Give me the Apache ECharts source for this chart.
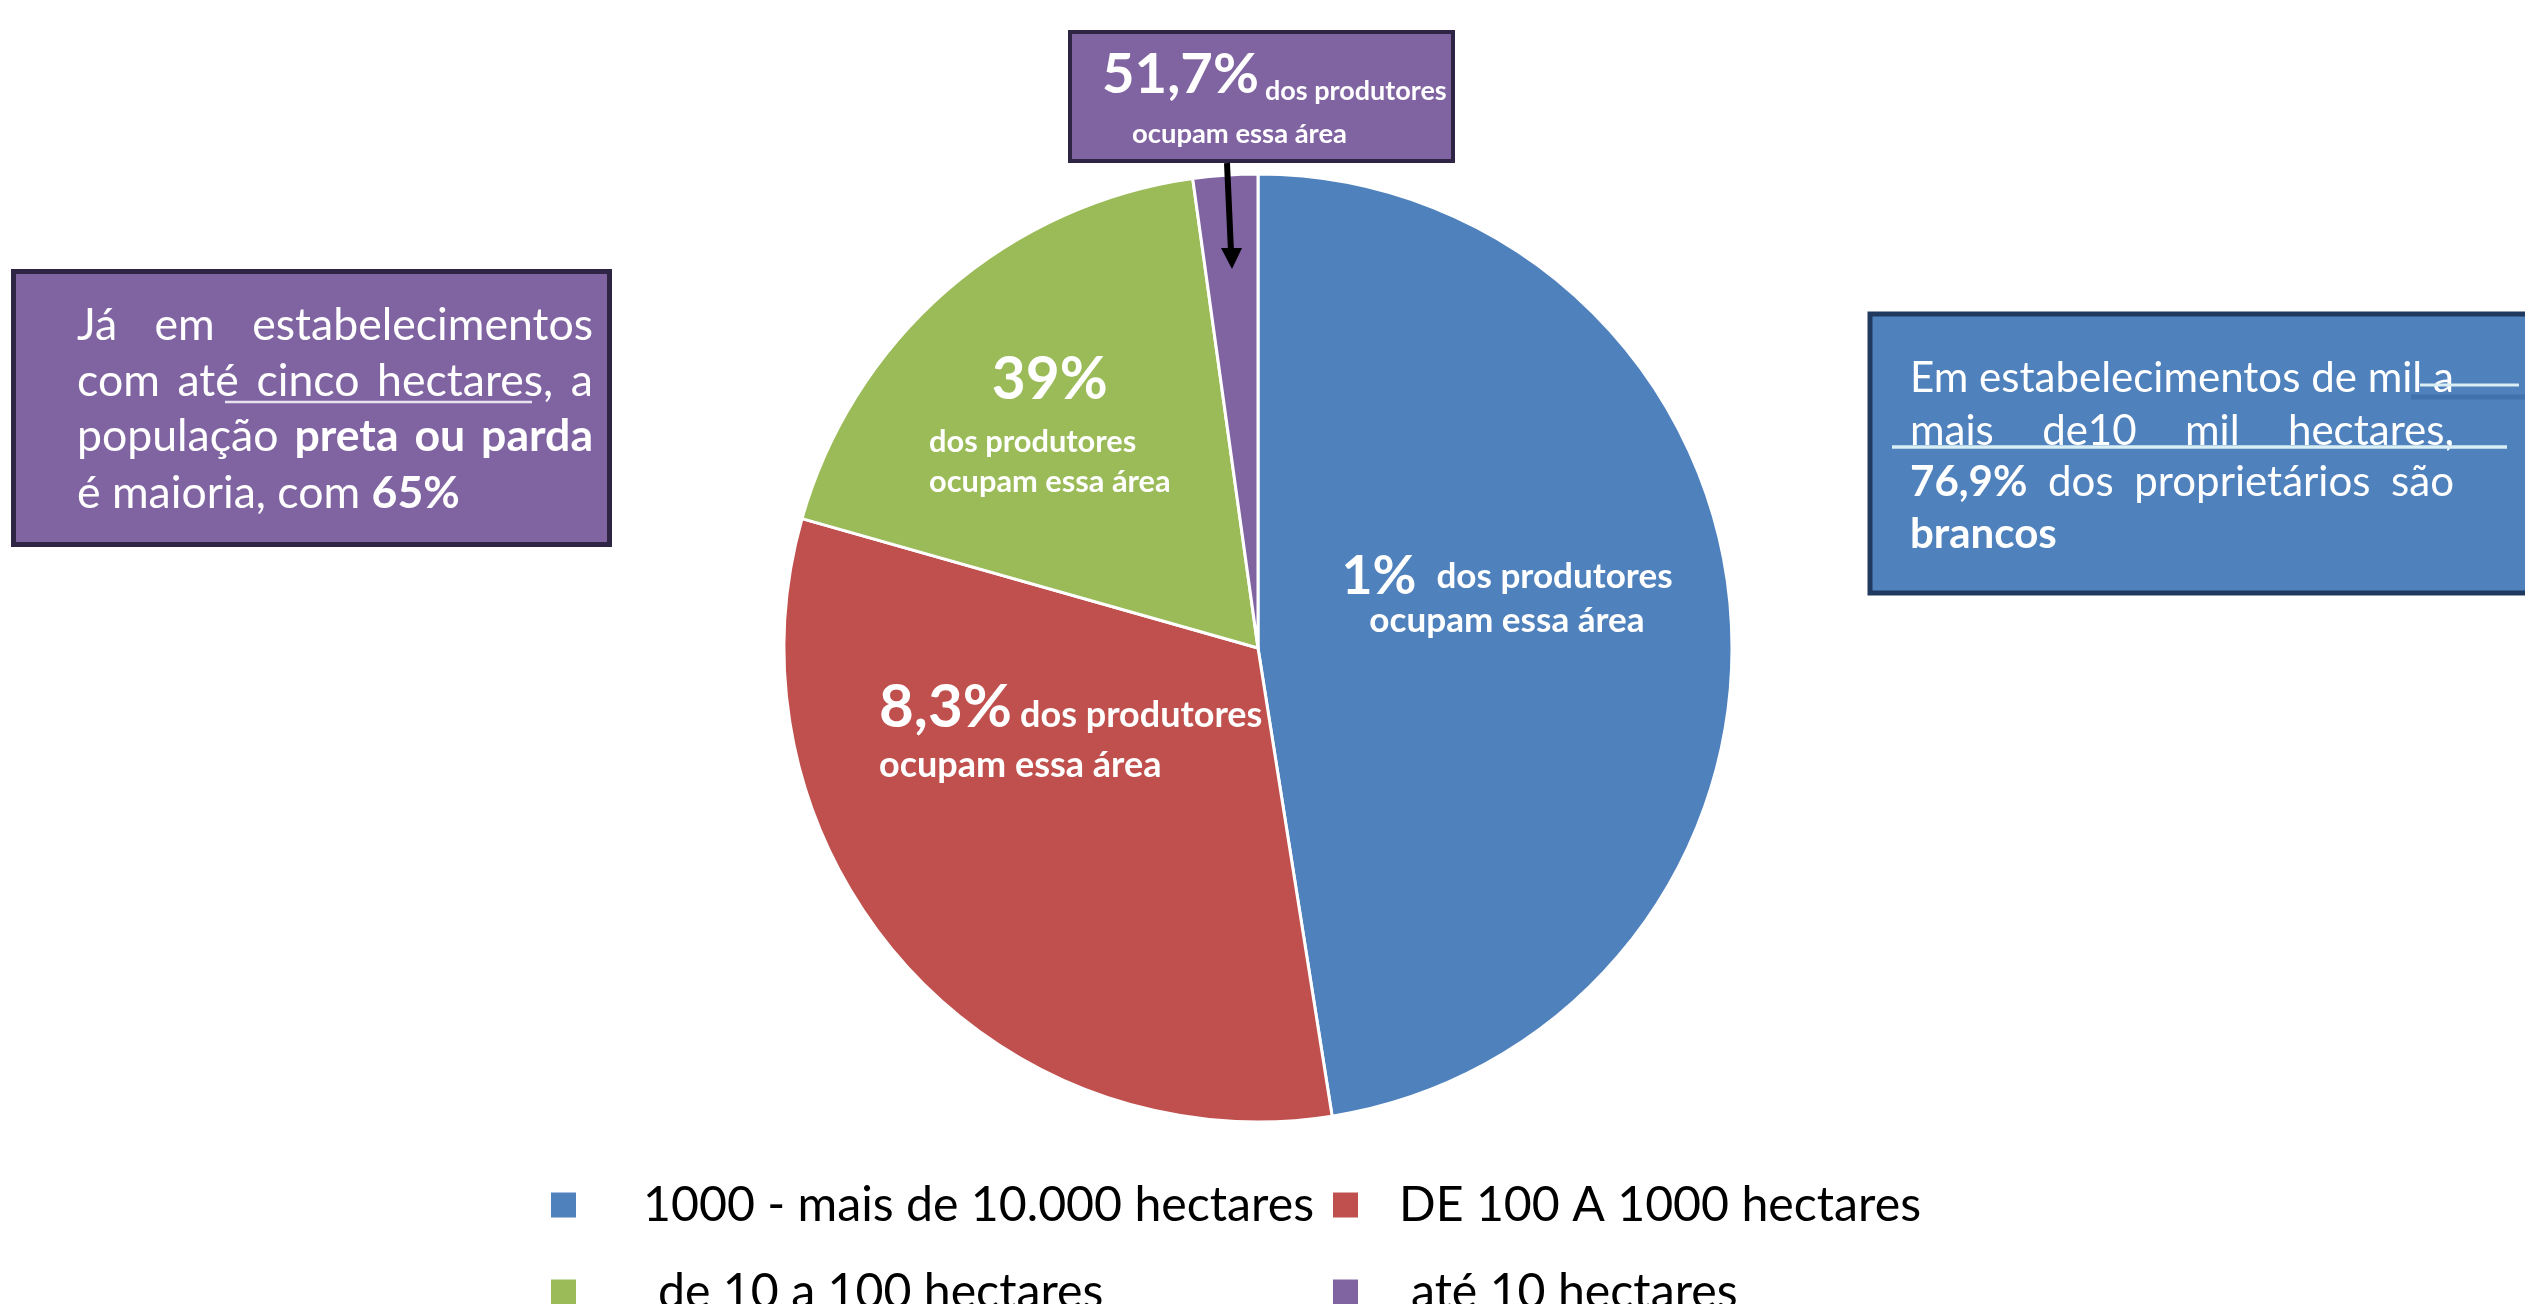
<!DOCTYPE html>
<html>
<head>
<meta charset="utf-8">
<script src="https://cdn.jsdelivr.net/npm/echarts@6/dist/echarts.min.js"></script>
<style>
  html, body { margin: 0; padding: 0; background: #fff; }
  #chart { width: 2525px; height: 1304px; }
</style>
</head>
<body>
<div id="chart"></div>
<script>
// data
const categories = ['1000 - mais de 10.000 hectares', 'DE 100 A 1000 hectares', 'de 10 a 100 hectares', 'até 10 hectares'];
const areaShare = [47.5, 31.9, 18.4, 2.2];
const producerShare = ['1%', '8,3%', '39%', '51,7%'];
const producerText = ['dos produtores', 'ocupam essa área'];

// left note: [word, bold]
const leftNote = [
  { words: [['Já', 0], ['em', 0], ['estabelecimentos', 0]], justify: true },
  { words: [['com', 0], ['até', 0], ['cinco', 0], ['hectares,', 0], ['a', 0]], justify: true },
  { words: [['população', 0], ['preta', 1], ['ou', 1], ['parda', 1]], justify: true },
  { words: [['é', 0], ['maioria,', 0], ['com', 0], ['65%', 1]], justify: false },
];
const rightNote = [
  { words: [['Em', 0], ['estabelecimentos', 0], ['de', 0], ['mil', 0], ['a', 0]], justify: true },
  { words: [['mais', 0], ['de10', 0], ['mil', 0], ['hectares,', 0]], justify: true },
  { words: [['76,9%', 1], ['dos', 0], ['proprietários', 0], ['são', 0]], justify: true },
  { words: [['brancos', 1]], justify: false },
];

const COLORS = ['#4F81BD', '#C0504D', '#9BBB59', '#8064A2'];
const FONT = 'Lato';

// text measuring, used to size fonts to the widths seen in the picture
const ctx = document.createElement('canvas').getContext('2d');
function textWidth(str, weight, size) {
  ctx.font = `${weight} ${size}px ${FONT}`;
  return ctx.measureText(str).width;
}
function fit(str, weight, width) {
  return Math.round(width / textWidth(str, weight, 100) * 1000) / 10;
}
function lineWidth(line, size) {
  const words = line.words.map(([w, b]) => textWidth(w, b ? 'bold' : 'normal', size));
  return words.reduce((a, c) => a + c, 0) + textWidth(' ', 'normal', size) * (words.length - 1);
}

function noteTexts(lines, x0, x1, baselines, size) {
  const out = [];
  lines.forEach((line, li) => {
    const widths = line.words.map(([w, b]) => textWidth(w, b ? 'bold' : 'normal', size));
    const total = widths.reduce((a, c) => a + c, 0);
    const gap = line.justify && widths.length > 1
      ? (x1 - x0 - total) / (widths.length - 1)
      : textWidth(' ', 'normal', size);
    let x = x0;
    line.words.forEach(([w, b], i) => {
      out.push({
        type: 'text', x: x, y: baselines[li] - 0.25 * size, z: 10,
        style: {
          text: w, fill: '#fff',
          font: `${b ? 'bold' : 'normal'} ${size}px ${FONT}`,
          textAlign: 'left', textVerticalAlign: 'middle',
        },
      });
      x += widths[i] + gap;
    });
  });
  return out;
}

const leftSize = 383 / lineWidth(leftNote[3], 100) * 100;
const rightSize = 544 / lineWidth(rightNote[0], 100) * 100;
const legendSize = fit(categories[1], 'normal', 512) * 1.02;

function tok(size, extra) {
  return Object.assign({ color: '#fff', fontFamily: FONT, fontWeight: 'bold', fontSize: size }, extra);
}

// slice labels
const sliceLabels = [
  {
    formatter: `{big|${producerShare[0]}}{pad|${producerText[0]}}\n{row|${producerText[1]}}`,
    rich: {
      big: tok(fit(producerShare[0], 'bold', 75), { lineHeight: 46 }),
      pad: tok(fit(producerText[0], 'bold', 236), { lineHeight: 42, padding: [0, 0, 0, 20] }),
      row: tok(fit(producerText[0], 'bold', 236), { lineHeight: 42 }),
    },
  },
  {
    formatter: `{big|${producerShare[1]}}{pad|${producerText[0]}}\n{row|${producerText[1]}}`,
    rich: {
      big: tok(fit(producerShare[1], 'bold', 133), { lineHeight: 50 }),
      pad: tok(fit(producerText[0], 'bold', 242), { lineHeight: 20, verticalAlign: 'bottom', padding: [0, 0, 0, 8] }),
      row: tok(fit(producerText[0], 'bold', 242), { lineHeight: 64 }),
    },
  },
  {
    formatter: `{big|${producerShare[2]}}\n{row|${producerText[0]}}\n{row|${producerText[1]}}`,
    rich: {
      big: tok(fit(producerShare[2], 'bold', 116), { lineHeight: 84, align: 'center' }),
      row: tok(fit(producerText[1], 'bold', 242), { lineHeight: 40 }),
    },
  },
  {
    formatter: `{big|${producerShare[3]}}{pad|${producerText[0]}}\n{row|${producerText[1]}}`,
    rich: {
      big: tok(fit(producerShare[3], 'bold', 157), { lineHeight: 60 }),
      pad: tok(fit(producerText[0], 'bold', 182), { lineHeight: 14, verticalAlign: 'bottom', padding: [0, 0, 0, 6] }),
      row: tok(fit(producerText[1], 'bold', 215), { lineHeight: 58, padding: [0, 0, 0, 30] }),
    },
  },
];
const labelSpots = [
  { x: 1507, y: 554, align: 'center', verticalAlign: 'top' },
  { x: 879, y: 683, align: 'left', verticalAlign: 'top' },
  { x: 929, y: 338, align: 'left', verticalAlign: 'top' },
  { x: 1102, y: 45, align: 'left', verticalAlign: 'top' },
];

// legend slots: [left, top, text padding]
const legendSlots = [[549, 1181, 61], [1331, 1181, 35], [549, 1268, 76], [1331, 1268, 47]];

const chart = echarts.init(document.getElementById('chart'), null, { renderer: 'canvas' });

const option = {
  animation: false,
  backgroundColor: '#fff',
  color: COLORS,
  legend: legendSlots.map((s, i) => ({
    left: s[0], top: s[1], orient: 'vertical', padding: 0,
    itemWidth: 27, itemHeight: 27, icon: 'rect', selectedMode: false,
    textStyle: { fontFamily: FONT, fontSize: legendSize, color: '#000', lineHeight: 27 },
    data: [{ name: categories[i], textStyle: { padding: [0, 0, 18, s[2]] } }],
  })),
  graphic: [
    // left note box
    { type: 'rect', shape: { x: 13.5, y: 271.5, width: 596, height: 273 }, style: { fill: '#8064A2', stroke: '#2E2443', lineWidth: 5 } },
    ...noteTexts(leftNote, 77, 593, [337, 393, 448, 505], leftSize),
    { type: 'line', z: 11, shape: { x1: 225, y1: 402, x2: 532, y2: 402 }, style: { stroke: '#E8E2F0', lineWidth: 2.5 } },
    // right note box
    { type: 'rect', shape: { x: 1870, y: 314, width: 700, height: 279 }, style: { fill: '#4F81BD', stroke: '#1F3A5E', lineWidth: 5 } },
    ...noteTexts(rightNote, 1910, 2454, [389, 442, 493, 545], rightSize),
    { type: 'line', z: 11, shape: { x1: 2411, y1: 397, x2: 2525, y2: 397 }, style: { stroke: '#4272AC', lineWidth: 5 } },
    { type: 'line', z: 11, shape: { x1: 2420, y1: 385, x2: 2519, y2: 385 }, style: { stroke: '#D9EEF4', lineWidth: 3 } },
    { type: 'line', z: 11, shape: { x1: 1892, y1: 447, x2: 2507, y2: 447 }, style: { stroke: '#D9EEF4', lineWidth: 3.5 } },
    // top note box and arrow
    { type: 'rect', shape: { x: 1070, y: 32, width: 383, height: 129 }, style: { fill: '#8064A2', stroke: '#2E2443', lineWidth: 4 } },
    { type: 'line', z: 20, shape: { x1: 1227, y1: 163, x2: 1231, y2: 252 }, style: { stroke: '#000', lineWidth: 6 } },
    { type: 'polygon', z: 20, shape: { points: [[1221, 248], [1242, 248], [1232, 269]] }, style: { fill: '#000' } },
  ],
  series: [
    {
      type: 'pie',
      center: [1258, 648],
      radius: 474,
      startAngle: 90,
      clockwise: true,
      silent: true,
      avoidLabelOverlap: false,
      itemStyle: { borderColor: '#fff', borderWidth: 3 },
      label: { show: true, position: 'inside' },
      labelLine: { show: false },
      labelLayout: (p) => labelSpots[p.dataIndex],
      data: categories.map((name, i) => ({
        name: name,
        value: areaShare[i],
        label: sliceLabels[i],
      })),
    },
  ],
};

chart.setOption(option);
</script>
</body>
</html>
